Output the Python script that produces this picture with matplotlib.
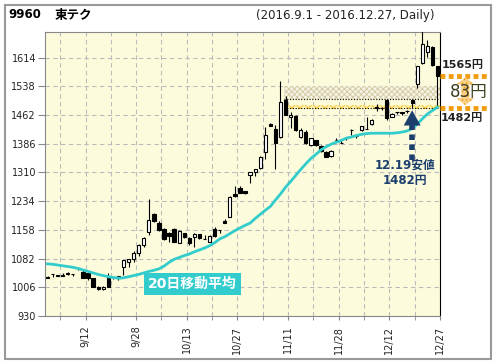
import matplotlib
matplotlib.use('Agg')
from matplotlib import pyplot as plt
import matplotlib.patches as patches
import numpy as np

plt.rcParams['font.family'] = ['DejaVu Sans', 'Noto Sans CJK JP']
plt.rcParams['hatch.linewidth'] = 0.6

# --- data ---
tick_days = [7, 17, 27, 37, 47, 57, 67, 77]
tick_labels = ['9/12', '9/28', '10/13', '10/27', '11/11', '11/28', '12/12', '12/27']
y_ticks = [930, 1006, 1082, 1158, 1234, 1310, 1386, 1462, 1538, 1614]

opens = [1034, 1041, 1037, 1037, 1042, 1041, 1057, 1047, 1043, 1030,
         1008, 1001, 1031, 1034, 1034, 1061, 1074, 1080, 1096, 1118,
         1153, 1200, 1177, 1160, 1151, 1160, 1124, 1149, 1136, 1140,
         1147, 1134, 1127, 1160, 1158, 1182, 1193, 1252, 1270, 1260,
         1303, 1310, 1321, 1363, 1439, 1426, 1404, 1503, 1456, 1460,
         1404, 1416, 1383, 1395, 1381, 1365, 1354, 1395, 1388, 1400,
         1423, 1407, 1423, 1426, 1438, 1483, 1480, 1503, 1458, 1470,
         1469, 1474, 1503, 1545, 1601, 1628, 1642, 1591]
highs = [1035, 1041, 1039, 1043, 1046, 1041, 1058, 1052, 1045, 1031,
         1009, 1009, 1043, 1034, 1035, 1079, 1081, 1101, 1120, 1140,
         1240, 1203, 1182, 1162, 1153, 1162, 1157, 1151, 1138, 1149,
         1148, 1145, 1144, 1166, 1158, 1188, 1248, 1275, 1274, 1261,
         1312, 1320, 1354, 1431, 1440, 1436, 1551, 1513, 1470, 1462,
         1428, 1422, 1402, 1396, 1383, 1367, 1370, 1402, 1396, 1404,
         1424, 1408, 1434, 1458, 1451, 1492, 1484, 1505, 1467, 1471,
         1470, 1475, 1505, 1592, 1700, 1660, 1645, 1593]
lows = [1030, 1033, 1035, 1036, 1039, 1036, 1052, 1030, 1025, 1007,
        1000, 1000, 1006, 1027, 1026, 1039, 1061, 1072, 1090, 1112,
        1145, 1180, 1156, 1130, 1127, 1125, 1122, 1137, 1119, 1114,
        1134, 1133, 1125, 1140, 1150, 1175, 1191, 1246, 1256, 1252,
        1283, 1300, 1318, 1347, 1433, 1319, 1402, 1461, 1428, 1421,
        1402, 1386, 1381, 1380, 1364, 1350, 1352, 1390, 1387, 1397,
        1410, 1400, 1421, 1424, 1436, 1474, 1476, 1450, 1456, 1464,
        1463, 1468, 1482, 1534, 1598, 1615, 1593, 1485]
closes = [1031, 1040, 1038, 1037, 1042, 1040, 1056, 1031, 1030, 1008,
          1001, 1008, 1008, 1033, 1034, 1078, 1080, 1096, 1118, 1137,
          1184, 1182, 1158, 1133, 1142, 1127, 1155, 1139, 1124, 1147,
          1136, 1134, 1142, 1142, 1157, 1176, 1246, 1248, 1257, 1255,
          1310, 1319, 1352, 1410, 1434, 1389, 1496, 1463, 1463, 1423,
          1423, 1388, 1400, 1383, 1366, 1352, 1368, 1395, 1389, 1402,
          1422, 1406, 1432, 1425, 1450, 1482, 1480, 1454, 1465, 1469,
          1468, 1473, 1495, 1591, 1651, 1645, 1595, 1565]
ma20 = [1068, 1067, 1065, 1063, 1061, 1059, 1056, 1052, 1048, 1044,
        1040, 1037, 1034, 1032, 1030, 1031, 1034, 1037, 1040, 1044,
        1048, 1051, 1055, 1062, 1072, 1080, 1085, 1090, 1094, 1100,
        1105, 1110, 1116, 1124, 1134, 1140, 1148, 1156, 1163, 1170,
        1176, 1188, 1199, 1210, 1220, 1237, 1253, 1271, 1286, 1302,
        1318, 1333, 1347, 1358, 1370, 1378, 1385, 1390, 1395, 1401,
        1404, 1408, 1411, 1413, 1414, 1414, 1414, 1414, 1414, 1415,
        1417, 1420, 1426, 1438, 1452, 1465, 1474, 1483]

low_day = 72
low_price = 1482
last_price = 1565
zone_start = 47
upper_zone = (1505, 1538)
lower_zone = (1477, 1489)

W, H = 496, 364
fig = plt.figure(figsize=(W / 100, H / 100), dpi=100)
fig.patch.set_facecolor('white')
ax = fig.add_axes([45 / W, 1 - 316 / H, (440 - 45) / W, (316 - 32) / H])
ax.set_facecolor('#fcfcdc')

# outer frame
fig.patches.append(patches.Rectangle((5 / W, 1 - 359 / H), 486 / W, 354 / H,
                                     transform=fig.transFigure, fill=False,
                                     edgecolor='#999999', lw=1.5))

days = np.arange(len(closes))
o = np.array(opens)
c = np.array(closes)
up = c >= o

# zones
zx0 = zone_start - 0.4
zw = len(closes) - 0.5 - zx0
ax.add_patch(patches.Rectangle((zx0, upper_zone[0]), zw, upper_zone[1] - upper_zone[0],
                               facecolor='#f6f3e2', edgecolor='#cfc6a0', hatch='xxxxxx', lw=0, zorder=1))
ax.add_patch(patches.Rectangle((zx0, lower_zone[0]), zw, lower_zone[1] - lower_zone[0],
                               facecolor='#fff3b8', edgecolor='#f0c020', hatch='xxxx', lw=0, zorder=1))
ax.hlines([upper_zone[0], low_price], zx0, len(closes) - 0.5,
          color='black', lw=0.8, linestyles=(0, (1, 1.5)), zorder=2)

# candles
ax.vlines(days, lows, highs, color='black', lw=0.8, zorder=3)
ax.bar(days[up], np.maximum(c - o, 0.6)[up], bottom=o[up], width=0.65,
       facecolor='white', edgecolor='black', lw=0.8, zorder=4)
ax.bar(days[~up], (o - c)[~up], bottom=c[~up], width=0.65,
       color='black', edgecolor='black', lw=0.8, zorder=4)

ax.plot(days, ma20, color='#33cccc', lw=2, zorder=5)

ax.set_xlim(-0.5, len(closes) - 0.5)
ax.set_ylim(930, 1682)
ax.set_yticks(y_ticks)
ax.set_xticks([d + 0.5 for d in tick_days])
ax.set_xticklabels(tick_labels, rotation=90)
ax.set_xticks([d - 4.5 for d in tick_days], minor=True)
ax.grid(which='both', color='#bbbbbb', lw=0.8, ls=(0, (4, 3)), zorder=0)
ax.set_axisbelow(True)
ax.tick_params(axis='y', length=5, color='#888888', labelsize=7, pad=1.5, labelcolor='#222222')
ax.tick_params(axis='x', which='both', length=3, color='#888888', labelsize=7, pad=4, labelcolor='#222222')
for s in ['left', 'top', 'bottom']:
    ax.spines[s].set_color('#888888')
ax.spines['right'].set_color('black')

# MA label
ax.text(28.6, 1015, '20日移動平均', color='white', fontsize=10, fontweight='bold',
        ha='center', va='center', zorder=6,
        bbox=dict(boxstyle='square,pad=0.3', facecolor='#33cccc', edgecolor='none'))

# low annotation arrow
navy = '#1c3f6e'
ax.plot([low_day, low_day], [1344, 1452], color=navy, lw=4, ls=(0, (1, 0.8)),
        dash_capstyle='butt', zorder=6, clip_on=False)
ax.annotate('', xy=(low_day, low_price), xytext=(low_day, 1447),
            arrowprops=dict(arrowstyle='-|>,head_length=0.9,head_width=0.5',
                            color=navy, lw=0.1, mutation_scale=12), zorder=6)
ax.text(70.6, 1330, '12.19安値', color=navy, fontsize=8.5, fontweight='bold',
        ha='center', va='center', clip_on=False)
ax.text(70.6, 1288, f'{low_price}円', color=navy, fontsize=8.5, fontweight='bold',
        ha='center', va='center', clip_on=False)

# right side range marks
orange = '#f39c12'
for v in [last_price, low_price]:
    ax.plot([77.5, 87.0], [v, v], color=orange, lw=3.5, ls=(0, (1, 0.7)),
            dash_capstyle='butt', clip_on=False, zorder=7)
ax_c, hw, sw = 82.5, 1.8, 0.8
top, bot = last_price - 3, low_price + 6
hl = 19
arrow_pts = [(ax_c, top), (ax_c + hw, top - hl), (ax_c + sw, top - hl),
             (ax_c + sw, bot + hl), (ax_c + hw, bot + hl), (ax_c, bot),
             (ax_c - hw, bot + hl), (ax_c - sw, bot + hl), (ax_c - sw, top - hl),
             (ax_c - hw, top - hl)]
ax.add_patch(patches.Polygon(arrow_pts, closed=True, facecolor='#fbd089',
                             edgecolor='#f39c12', hatch='....', lw=0, clip_on=False, zorder=7))
ax.text(83.1, 1524, f'{last_price - low_price}円', color='#3d3d1f', fontsize=12,
        ha='center', va='center', clip_on=False, zorder=8)
ax.text(81.9, 1595, f'{last_price}円', color='#222222', fontsize=8, fontweight='bold',
        ha='center', va='center', clip_on=False)
ax.text(81.9, 1455, f'{low_price}円', color='#222222', fontsize=8, fontweight='bold',
        ha='center', va='center', clip_on=False)

# header
fig.text(8 / W, 1 - 15 / H, '9960', fontsize=8.5, fontweight='bold', va='center')
fig.text(55 / W, 1 - 15 / H, '東テク', fontsize=9, fontweight='bold', va='center')
fig.text(434 / W, 1 - 15 / H, '(2016.9.1 - 2016.12.27, Daily)', fontsize=8.5,
         ha='right', va='center', color='#222222')

fig.savefig('out.png', dpi=100)
